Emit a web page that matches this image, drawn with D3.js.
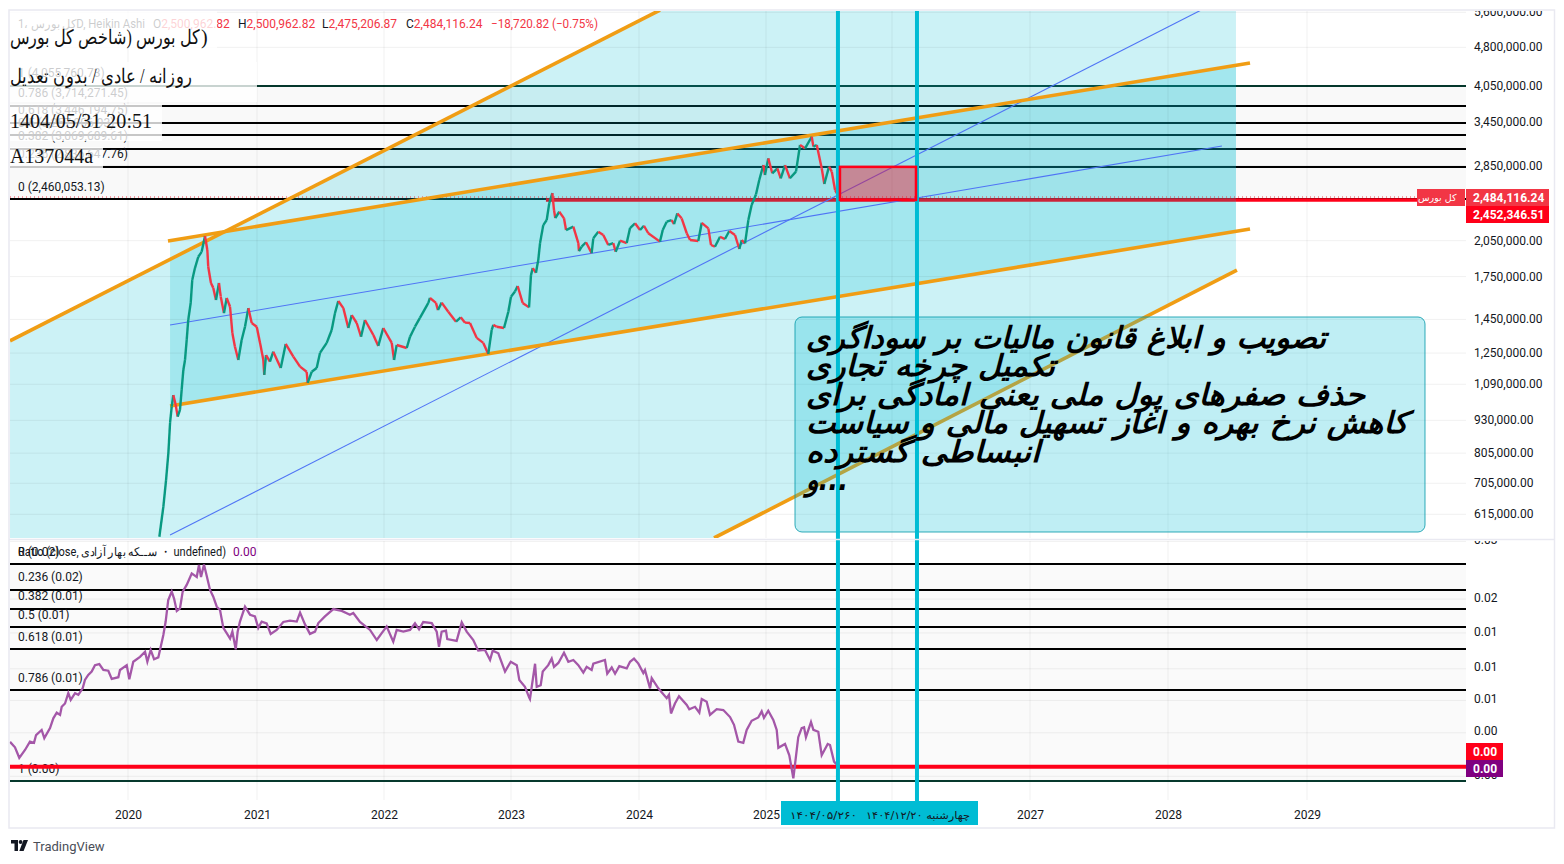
<!DOCTYPE html>
<html lang="en">
<head>
  <meta charset="UTF-8">
  <title>Tehran index chart</title>
  <script src="https://d3js.org/d3.v7.min.js"></script>
  <style>
    body, html {
      margin: 0;
      padding: 0;
      overflow: hidden;
      background: #fff;
    }
    svg {
      display: block;
      font-family: Roboto, sans-serif;
    }
    .axis text {
      font-family: Roboto, sans-serif;
      font-size: 12px;
      fill: #131722;
    }
    .grid {
      stroke: #000;
      stroke-opacity: 0.06;
    }
    .fib {
      shape-rendering: crispEdges;
    }
  </style>
</head>
<body>
  <svg id="chart" width="1564" height="864"></svg>
  <script>
    // Time axis: fractional years, the chart's own spacing differs per year
    const yearStops = [2019, 2020, 2021, 2022, 2023, 2024, 2025, 2026, 2027, 2028, 2029, 2030];
    const yearTicks = [2020, 2021, 2022, 2023, 2024, 2025, 2026, 2027, 2028, 2029];

    // Price pane ticks
    const priceTicks = [5600000, 4800000, 4050000, 3450000, 2850000, 2050000, 1750000, 1450000, 1250000, 1090000, 930000, 805000, 705000, 615000];

    // Index candles (fractional year, close in thousands)
    const priceDates = [2020.243, 2020.274, 2020.295, 2020.313, 2020.326, 2020.339, 2020.351, 2020.370, 2020.385, 2020.403, 2020.416, 2020.429, 2020.442, 2020.455, 2020.467, 2020.486, 2020.498, 2020.519, 2020.545, 2020.571, 2020.597, 2020.615, 2020.622, 2020.643, 2020.661, 2020.682, 2020.705, 2020.719, 2020.744, 2020.765, 2020.791, 2020.809, 2020.829, 2020.855, 2020.881, 2020.907, 2020.933, 2020.959, 2020.998,
      2021.024, 2021.050, 2021.057, 2021.071, 2021.102, 2021.128, 2021.187, 2021.226, 2021.286, 2021.339, 2021.391, 2021.399, 2021.431, 2021.470, 2021.496, 2021.549, 2021.588, 2021.614, 2021.640, 2021.680, 2021.719, 2021.746, 2021.785, 2021.819, 2021.850, 2021.916, 2021.955, 2021.994,
      2022.061, 2022.079, 2022.100, 2022.179, 2022.205, 2022.244, 2022.283, 2022.349, 2022.362, 2022.409, 2022.425, 2022.454, 2022.506, 2022.567, 2022.604, 2022.638, 2022.677, 2022.730, 2022.782, 2022.821, 2022.848, 2022.861, 2022.887, 2022.945, 2022.979,
      2023.000, 2023.031, 2023.052, 2023.091, 2023.141, 2023.156, 2023.170, 2023.195, 2023.213, 2023.227, 2023.252, 2023.279, 2023.299, 2023.323, 2023.336, 2023.346, 2023.377, 2023.414, 2023.430, 2023.487, 2023.526, 2023.531, 2023.552, 2023.586, 2023.630, 2023.643, 2023.682, 2023.721, 2023.760, 2023.799, 2023.818, 2023.852, 2023.904, 2023.930, 2023.969,
      2024.008, 2024.039, 2024.073, 2024.165, 2024.187, 2024.218, 2024.257, 2024.276, 2024.302, 2024.336, 2024.376, 2024.402, 2024.467, 2024.494, 2024.546, 2024.567, 2024.598, 2024.638, 2024.677, 2024.711, 2024.756, 2024.790, 2024.809, 2024.835, 2024.861, 2024.887, 2024.921, 2024.947, 2024.979, 2024.992,
      2025.018, 2025.050, 2025.090, 2025.117, 2025.151, 2025.190, 2025.238, 2025.270, 2025.310, 2025.363, 2025.376, 2025.403, 2025.442, 2025.463, 2025.500, 2025.522, 2025.548, 2025.574];
    const priceValues = [554, 632, 711, 801, 914, 982, 1033, 989, 940, 968, 1057, 1154, 1206, 1317, 1438, 1550, 1714, 1807, 1899, 1941, 2081, 1956, 1817, 1692, 1656, 1570, 1692, 1593, 1482, 1584, 1524, 1358, 1278, 1206, 1317, 1396, 1515, 1419, 1396,
      1300, 1206, 1129, 1232, 1197, 1251, 1164, 1294, 1224, 1171, 1145, 1090, 1145, 1164, 1244, 1300, 1376, 1482, 1563, 1515, 1388, 1469, 1419, 1336, 1438, 1346, 1283, 1388,
      1300, 1206, 1288, 1271, 1336, 1396, 1451, 1550, 1584, 1550, 1502, 1552, 1491, 1427, 1455, 1421, 1419, 1329, 1300, 1238, 1376, 1407, 1396, 1388, 1491,
      1593, 1630, 1670, 1550, 1520, 1752, 1807, 1770, 1872, 2017, 2183, 2232, 2405, 2514, 2332, 2252, 2315, 2249, 2136, 2168, 2017, 1947, 1985, 2024, 1930, 2060, 2120, 2090, 2000, 2017, 1941, 2038, 2017, 2155, 2200,
      2136, 2177, 2106, 2030, 2136, 2216, 2232, 2193, 2298, 2249, 2106, 2044, 2035, 2205, 2152, 2000, 1985, 2074, 2053, 2127, 2090, 1965, 2044, 2015, 2232, 2385, 2497, 2662, 2843, 2721,
      2928, 2742, 2803, 2682, 2843, 2682, 2762, 3105, 3060, 3220, 3083, 3105, 2803, 2615, 2824, 2762, 2547, 2484];

    // Fibonacci retracement on the price pane
    const priceFibLevels = ['1', '0.786', '0.618', '0.5', '0.382', '0.236', '0'];
    const priceFibValues = [4055760.73, 3714271.45, 3446194.75, 3257906.93, 3069689.61, 2836647.76, 2460053.13];

    // Trend lines: [start year, start price, end year, end price]
    const outerUpper = [2019.071, 1312000, 2024.165, 5622000];
    const outerLower = [2024.591, 551000, 2028.496, 1791000];
    const channelTop = [2020.310, 2036000, 2028.590, 4453000];
    const channelBottom = [2020.326, 985000, 2028.590, 2145000];
    const channelMid = [2020.326, 1406000, 2028.388, 3091000];
    const steepMid = [2020.326, 558000, 2028.266, 5672000];

    // Shaded zones, as year / price corners
    const fanDates = [2019.071, 2024.165, 2028.489, 2028.489, 2024.591, 2019.071];
    const fanPrices = [1312000, 5622000, 5622000, 1791000, 551000, 551000];
    const bandDates = [2020.326, 2028.489, 2028.489, 2020.326];
    const bandPrices = [2038000, 4408000, 2124000, 985000];

    const lastClose = 2484116.24;
    const redLevel = 2452346.51;
    const eventDates = [2025.571, 2026.181];

    // Ratio pane
    const ratioTicks = [0.0265, 0.016, 0.0119, 0.0087, 0.0066, 0.00497, 0.0034];
    const ratioFibLevels = ['0', '0.236', '0.382', '0.5', '0.618', '0.786', '1'];
    const ratioFibValues = [0.0215, 0.01719, 0.01452, 0.01236, 0.01021, 0.00714, 0.003225];
    const ratioRedLevel = 0.00365;

    // Ratio line, values in units of 0.0001
    const ratioDates = [2019.071, 2019.110, 2019.144, 2019.189, 2019.228, 2019.260, 2019.276, 2019.320, 2019.341, 2019.386, 2019.412, 2019.439, 2019.465, 2019.478, 2019.504, 2019.530, 2019.549, 2019.583, 2019.609, 2019.643, 2019.661, 2019.687, 2019.714, 2019.740, 2019.774, 2019.806, 2019.845, 2019.872, 2019.924, 2019.937, 2019.990,
      2020.010, 2020.041, 2020.093, 2020.132, 2020.150, 2020.176, 2020.202, 2020.235, 2020.248, 2020.274, 2020.292, 2020.312, 2020.339, 2020.357, 2020.378, 2020.403, 2020.424, 2020.455, 2020.494, 2020.533, 2020.550, 2020.566, 2020.589, 2020.610, 2020.636, 2020.661, 2020.688, 2020.713, 2020.739, 2020.765, 2020.791, 2020.809, 2020.835, 2020.850, 2020.868, 2020.907, 2020.946, 2020.984,
      2021.010, 2021.037, 2021.076, 2021.108, 2021.155, 2021.207, 2021.260, 2021.313, 2021.339, 2021.378, 2021.417, 2021.457, 2021.483, 2021.535, 2021.601, 2021.667, 2021.732, 2021.758, 2021.811, 2021.890, 2021.943, 2021.982,
      2022.021, 2022.073, 2022.100, 2022.152, 2022.205, 2022.244, 2022.276, 2022.309, 2022.376, 2022.415, 2022.433, 2022.454, 2022.488, 2022.498, 2022.572, 2022.612, 2022.651, 2022.703, 2022.742, 2022.795, 2022.835, 2022.856, 2022.900, 2022.953, 2022.998,
      2023.045, 2023.065, 2023.109, 2023.143, 2023.148, 2023.188, 2023.201, 2023.232, 2023.248, 2023.291, 2023.318, 2023.336, 2023.370, 2023.414, 2023.448, 2023.487, 2023.526, 2023.565, 2023.591, 2023.630, 2023.643, 2023.734, 2023.752, 2023.787, 2023.813, 2023.846, 2023.904, 2023.930, 2023.961, 2023.995,
      2024.034, 2024.047, 2024.087, 2024.100, 2024.152, 2024.218, 2024.236, 2024.252, 2024.283, 2024.315, 2024.376, 2024.396, 2024.441, 2024.475, 2024.494, 2024.533, 2024.559, 2024.612, 2024.664, 2024.717, 2024.748, 2024.782, 2024.821, 2024.848, 2024.887, 2024.939, 2024.966, 2024.984,
      2025.018, 2025.058, 2025.085, 2025.098, 2025.151, 2025.185, 2025.217, 2025.244, 2025.256, 2025.283, 2025.302, 2025.317, 2025.357, 2025.376, 2025.415, 2025.442, 2025.490, 2025.508, 2025.540, 2025.574];
    const ratioValues = [45.4, 43.3, 39.5, 42.3, 45.5, 45, 48.2, 50.4, 46.9, 51.2, 55.8, 58.6, 57.5, 61.7, 63.5, 69.5, 65.5, 69.5, 68.5, 72.5, 78, 81.5, 83.9, 88.8, 89.6, 85.1, 84.6, 78.7, 79.9, 85.1, 88.8,
      78.5, 91.5, 95.5, 99.8, 91.5, 101.4, 93.5, 95, 101.4, 115.6, 130, 157, 169, 159, 142.6, 146, 169, 179, 198, 192, 213, 192, 214, 194, 171.4, 161.6, 148, 144, 123, 117.5, 112, 119, 102, 119, 130, 148, 138, 136,
      123, 130, 128, 116.7, 120.8, 129.5, 131, 130, 140.6, 126.8, 116.7, 119, 128.3, 136, 145, 142.6, 138, 140, 129.5, 120.8, 110.6, 117.5,
      124.5, 109, 120.8, 119, 120.8, 128, 121.5, 129.5, 128.3, 119, 104.3, 119, 120, 111.5, 109.8, 129, 119, 110.6, 100.8, 101.4, 92.9, 100.8, 98.5, 83.9, 91.5,
      88.8, 78, 73.5, 66.7, 66, 89.9, 73.5, 74.5, 84, 88.8, 94, 87.5, 90.5, 99, 91.5, 92.9, 88.8, 83.2, 87.5, 85.1, 90, 92.9, 82.4, 87, 82.4, 88, 86.3, 91.5, 94, 90,
      82.9, 85.1, 72.5, 79.2, 72.5, 66.5, 68.5, 58.2, 63.5, 67.7, 62.7, 60.4, 61.7, 58.6, 66, 64.5, 57.5, 60.4, 60, 56.4, 52.7, 45.5, 45, 50.4, 54.6, 56.2, 59.3, 56,
      59.6, 55, 50.4, 43.1, 44.6, 40.4, 33, 42.3, 47.3, 51.2, 51.6, 47.3, 54, 50.4, 49.6, 40.4, 44.6, 44.2, 38.2, 36.7];

    // Texts
    const headerStats = [
      ['O', '2,500,962.82', 153], ['H', '2,500,962.82', 238], ['L', '2,475,206.87', 322], ['C', '2,484,116.24', 406]
    ];
    const noteLines = [
      'تصویب و ابلاغ قانون مالیات بر سوداگری',
      'تکمیل چرخه تجاری',
      'حذف صفرهای پول ملی یعنی امادگی برای',
      'کاهش نرخ بهره و اغاز تسهیل مالی و سیاست',
      'انبساطی گسترده',
      'و...'
    ];
    const noteWidths = [520, 249, 559, 602, 234, 42];
    const stampLines = ['کل بورس (شاخص کل بورس', 'روزانه / عادی / بدون تعدیل', '1404/05/31 20:51', 'A137044a'];

    const left = 10, right = 1466, paneTop = 11, paneBottom = 538;
    const pricePlotShift = -1.3;
    const cyan = '#00bcd4', orange = '#f09d14', blue = '#4f74f5', red = '#ff0019', tvRed = '#f23645', purple = '#800080';
    const arabicFont = '"DejaVu Sans", sans-serif';

    const svg = d3.select('#chart');

    const x = d3.scaleLinear()
      .domain(yearStops)
      .range([1, 128, 257, 384, 511, 639, 766, 892, 1030, 1168, 1307, 1446]);
    const priceY = d3.scaleLog().domain([615000, 5600000]).range([514.3, 12.3]);
    const ratioY = d3.scaleLog().domain([0.003225, 0.0215]).range([781, 564]);

    const defs = svg.append('defs');
    defs.append('clipPath').attr('id', 'price-clip')
      .append('rect').attr('x', left).attr('y', paneTop).attr('width', right - left).attr('height', paneBottom - paneTop);
    defs.append('clipPath').attr('id', 'price-axis-clip')
      .append('rect').attr('x', right).attr('y', paneTop).attr('width', 90).attr('height', paneBottom - paneTop + 1);
    defs.append('clipPath').attr('id', 'ratio-axis-clip')
      .append('rect').attr('x', right).attr('y', 541).attr('width', 90).attr('height', 260);

    // ---- price pane ----
    const pricePane = svg.append('g');

    pricePane.append('rect')
      .attr('x', left).attr('width', right - left)
      .attr('y', priceY(priceFibValues[0])).attr('height', priceY(priceFibValues[6]) - priceY(priceFibValues[0]))
      .attr('fill', '#f9f9f9');

    pricePane.selectAll('line.fib')
      .data(priceFibValues)
      .join('line')
      .attr('class', 'fib')
      .attr('x1', left).attr('x2', right)
      .attr('y1', priceY).attr('y2', priceY)
      .attr('stroke', (d, i) => (i === 0 ? '#06392d' : '#000'))
      .attr('stroke-width', 2);

    const corners = (dates, values) => dates.map((d, i) => [x(d), priceY(values[i]) + pricePlotShift].join(',')).join(' ');

    const shaded = pricePane.append('g').attr('clip-path', 'url(#price-clip)');
    shaded.append('polygon').attr('points', corners(fanDates, fanPrices)).attr('fill', cyan).attr('fill-opacity', 0.2);
    shaded.append('polygon').attr('points', corners(bandDates, bandPrices)).attr('fill', cyan).attr('fill-opacity', 0.2);

    // Grid
    pricePane.selectAll('line.hgrid')
      .data(priceTicks)
      .join('line')
      .attr('class', 'grid hgrid')
      .attr('x1', left).attr('x2', right)
      .attr('y1', priceY).attr('y2', priceY);
    pricePane.selectAll('line.vgrid')
      .data(yearTicks)
      .join('line')
      .attr('class', 'grid vgrid')
      .attr('x1', x).attr('x2', x)
      .attr('y1', paneTop).attr('y2', paneBottom);

    // Last price dots and red level
    pricePane.append('line')
      .attr('x1', left).attr('x2', right)
      .attr('y1', priceY(lastClose)).attr('y2', priceY(lastClose))
      .attr('stroke', tvRed).attr('stroke-dasharray', '1 3');
    pricePane.append('line')
      .attr('x1', x(2023.273)).attr('x2', x(2028.489))
      .attr('y1', priceY(redLevel)).attr('y2', priceY(redLevel))
      .attr('stroke', '#cb2339').attr('stroke-width', 3.5);
    pricePane.append('line')
      .attr('x1', x(2028.489)).attr('x2', 1417)
      .attr('y1', priceY(redLevel)).attr('y2', priceY(redLevel))
      .attr('stroke', red).attr('stroke-width', 3.5);

    // Trend lines and candles share the small plot shift
    const plot = pricePane.append('g')
      .attr('clip-path', 'url(#price-clip)')
      .append('g')
      .attr('transform', `translate(0,${pricePlotShift})`);

    plot.selectAll('line.thin')
      .data([channelMid, steepMid])
      .join('line')
      .attr('class', 'thin')
      .attr('x1', (d) => x(d[0])).attr('y1', (d) => priceY(d[1]))
      .attr('x2', (d) => x(d[2])).attr('y2', (d) => priceY(d[3]))
      .attr('stroke', blue).attr('stroke-width', 1.1);

    plot.selectAll('line.thick')
      .data([outerUpper, outerLower, channelTop, channelBottom])
      .join('line')
      .attr('class', 'thick')
      .attr('x1', (d) => x(d[0])).attr('y1', (d) => priceY(d[1]))
      .attr('x2', (d) => x(d[2])).attr('y2', (d) => priceY(d[3]))
      .attr('stroke', orange).attr('stroke-width', 3.6);

    plot.selectAll('line.candle')
      .data(priceValues.slice(1))
      .join('line')
      .attr('class', 'candle')
      .attr('x1', (d, i) => x(priceDates[i]))
      .attr('y1', (d, i) => priceY(priceValues[i] * 1000))
      .attr('x2', (d, i) => x(priceDates[i + 1]))
      .attr('y2', (d) => priceY(d * 1000))
      .attr('stroke', (d, i) => (d >= priceValues[i] ? '#089981' : tvRed))
      .attr('stroke-width', 2.4);

    // Fib labels
    pricePane.selectAll('text.fib-label')
      .data(priceFibValues)
      .join('text')
      .attr('class', 'fib-label')
      .attr('x', 18)
      .attr('y', (d) => priceY(d) - 8.5)
      .attr('font-size', 12)
      .attr('fill', '#131722')
      .text((d, i) => `${priceFibLevels[i]} (${d3.format(',.2f')(d)})`);

    // Legend line
    const legend = pricePane.append('g').attr('font-size', 12).attr('font-family', 'Roboto, sans-serif');
    legend.append('text').attr('x', 18).attr('y', 28).attr('fill', '#131722')
      .attr('textLength', 127).attr('lengthAdjust', 'spacingAndGlyphs')
      .text('کل بورس ،1D, Heikin Ashi');
    headerStats.forEach(([key, value, px]) => {
      const t = legend.append('text').attr('x', px).attr('y', 28).attr('fill', '#131722');
      t.append('tspan').text(key);
      t.append('tspan').attr('fill', tvRed).text(value);
    });
    legend.append('text').attr('x', 491).attr('y', 28).attr('fill', tvRed)
      .attr('textLength', 107).attr('lengthAdjust', 'spacingAndGlyphs')
      .text('−18,720.82 (−0.75%)');

    // Semi white stamps sitting over the chart
    const stampBoxes = [[8, 10, 209, 38], [10, 62, 247, 40], [10, 104, 152, 37], [10, 147, 93, 21]];
    pricePane.selectAll('rect.stamp')
      .data(stampBoxes)
      .join('rect')
      .attr('class', 'stamp')
      .attr('x', (d) => d[0]).attr('y', (d) => d[1])
      .attr('width', (d) => d[2]).attr('height', (d) => d[3])
      .attr('fill', '#fff').attr('fill-opacity', 0.78);

    const stampY = [44, 83, 128, 163];
    const stampLength = [190, 182, 142, 83];
    pricePane.selectAll('text.stamp-text')
      .data(stampLines)
      .join('text')
      .attr('class', 'stamp-text')
      .attr('x', 10)
      .attr('y', (d, i) => stampY[i])
      .attr('font-family', '"Liberation Serif", "DejaVu Serif", serif')
      .attr('font-size', 20)
      .attr('fill', '#111')
      .attr('textLength', (d, i) => stampLength[i])
      .attr('lengthAdjust', 'spacingAndGlyphs')
      .text((d) => d);
    // Closing bracket of the first stamp sits at the far right of the line
    pricePane.append('text')
      .attr('x', 201).attr('y', stampY[0])
      .attr('font-family', '"Liberation Serif", serif')
      .attr('font-size', 20).attr('fill', '#111')
      .text(')');

    // ---- ratio pane ----
    const ratioPane = svg.append('g');

    ratioPane.append('rect')
      .attr('x', left).attr('width', right - left)
      .attr('y', ratioY(ratioFibValues[0])).attr('height', ratioY(ratioFibValues[6]) - ratioY(ratioFibValues[0]))
      .attr('fill', '#fafafa');

    ratioPane.selectAll('line.hgrid')
      .data(ratioTicks)
      .join('line')
      .attr('class', 'grid hgrid')
      .attr('x1', left).attr('x2', right)
      .attr('y1', (d) => ratioY(d) + 1.3).attr('y2', (d) => ratioY(d) + 1.3);
    ratioPane.selectAll('line.vgrid')
      .data(yearTicks)
      .join('line')
      .attr('class', 'grid vgrid')
      .attr('x1', x).attr('x2', x)
      .attr('y1', 541).attr('y2', 800);

    ratioPane.selectAll('line.fib')
      .data(ratioFibValues)
      .join('line')
      .attr('class', 'fib')
      .attr('x1', left).attr('x2', right)
      .attr('y1', ratioY).attr('y2', ratioY)
      .attr('stroke', (d, i) => (i === 6 ? '#06392d' : '#000'))
      .attr('stroke-width', 2);

    ratioPane.selectAll('text.fib-label')
      .data(ratioFibValues)
      .join('text')
      .attr('class', 'fib-label')
      .attr('x', 18)
      .attr('y', (d) => ratioY(d) - 8.5)
      .attr('font-size', 12)
      .attr('fill', '#131722')
      .text((d, i) => `${ratioFibLevels[i]} (${d3.format('.2f')(d)})`);

    ratioPane.append('line')
      .attr('x1', left).attr('x2', right)
      .attr('y1', ratioY(ratioRedLevel)).attr('y2', ratioY(ratioRedLevel))
      .attr('stroke', red).attr('stroke-width', 4);

    const ratioLine = d3.line()
      .x((d, i) => x(ratioDates[i]))
      .y((d) => ratioY(d / 10000));
    ratioPane.append('path')
      .attr('d', ratioLine(ratioValues))
      .attr('fill', 'none')
      .attr('stroke', '#a457a8')
      .attr('stroke-width', 2.3);

    ratioPane.append('text')
      .attr('x', 18).attr('y', 556)
      .attr('font-size', 12).attr('fill', '#131722')
      .attr('textLength', 208).attr('lengthAdjust', 'spacingAndGlyphs')
      .text('Ratio (close, ســکه بهار آزادی ・ undefined)');
    ratioPane.append('text')
      .attr('x', 233).attr('y', 556)
      .attr('font-size', 12).attr('fill', purple)
      .text('0.00');

    // ---- annotation box ----
    svg.append('rect')
      .attr('x', 795).attr('y', 317).attr('width', 630).attr('height', 215)
      .attr('rx', 7)
      .attr('fill', cyan).attr('fill-opacity', 0.25)
      .attr('stroke', '#0097a7').attr('stroke-opacity', 0.8);

    // ---- event lines ----
    svg.selectAll('line.event')
      .data(eventDates)
      .join('line')
      .attr('class', 'event')
      .attr('x1', x).attr('x2', x)
      .attr('y1', paneTop).attr('y2', 801)
      .attr('stroke', cyan).attr('stroke-width', 4);

    // Red rectangle between the two event dates, over the event lines
    svg.append('rect')
      .attr('x', x(eventDates[0]) + 2).attr('width', x(eventDates[1]) - x(eventDates[0]) - 3)
      .attr('y', priceY(priceFibValues[5])).attr('height', priceY(redLevel) - priceY(priceFibValues[5]))
      .attr('fill', red).attr('fill-opacity', 0.4)
      .attr('stroke', red).attr('stroke-width', 2.5);

    svg.selectAll('text.note')
      .data(noteLines)
      .join('text')
      .attr('class', 'note')
      .attr('x', 806)
      .attr('y', (d, i) => 348 + i * 28.4)
      .attr('font-family', arabicFont)
      .attr('font-size', 30)
      .attr('font-weight', 'bold')
      .attr('font-style', 'italic')
      .attr('fill', '#000')
      .attr('textLength', (d, i) => noteWidths[i])
      .attr('lengthAdjust', 'spacingAndGlyphs')
      .text((d) => d);

    // ---- axes ----
    const priceAxis = d3.axisRight(priceY)
      .tickValues(priceTicks)
      .tickFormat(d3.format(',.2f'))
      .tickSize(0)
      .tickPadding(8);
    svg.append('g')
      .attr('clip-path', 'url(#price-axis-clip)')
      .append('g')
      .attr('class', 'axis')
      .attr('transform', `translate(${right},-0.3)`)
      .call(priceAxis)
      .call((g) => g.select('.domain').remove());

    const ratioAxis = d3.axisRight(ratioY)
      .tickValues(ratioTicks)
      .tickFormat(d3.format('.2f'))
      .tickSize(0)
      .tickPadding(8);
    svg.append('g')
      .attr('clip-path', 'url(#ratio-axis-clip)')
      .append('g')
      .attr('class', 'axis')
      .attr('transform', `translate(${right},-0.4)`)
      .call(ratioAxis)
      .call((g) => g.select('.domain').remove());

    const timeAxis = d3.axisBottom(x)
      .tickValues(yearTicks)
      .tickFormat(d3.format('d'))
      .tickSize(0)
      .tickPadding(0);
    svg.append('g')
      .attr('class', 'axis')
      .attr('transform', 'translate(0,810)')
      .call(timeAxis)
      .call((g) => g.select('.domain').remove());

    // Date labels of the event lines
    svg.append('rect').attr('x', 781).attr('y', 801).attr('width', 197).attr('height', 24).attr('fill', cyan);
    svg.append('text').attr('x', 790).attr('y', 819)
      .attr('font-family', arabicFont).attr('font-size', 10.5).attr('fill', '#131722')
      .attr('textLength', 67).attr('lengthAdjust', 'spacingAndGlyphs')
      .text('۱۴۰۴/۰۵/۲۶۰');
    svg.append('text').attr('x', 866).attr('y', 819)
      .attr('font-family', arabicFont).attr('font-size', 10.5).attr('fill', '#131722')
      .attr('textLength', 104).attr('lengthAdjust', 'spacingAndGlyphs')
      .text('۱۴۰۴/۱۲/۲۰ چهارشنبه');

    // ---- price tags ----
    const tagRows = [
      { value: lastClose, top: 189, h: 17, fill: tvRed },
      { value: redLevel, top: 206, h: 17, fill: red }
    ];
    tagRows.forEach((tag) => {
      svg.append('rect').attr('x', right).attr('y', tag.top).attr('width', 83).attr('height', tag.h).attr('fill', tag.fill);
      svg.append('text').attr('x', 1473).attr('y', tag.top + 13)
        .attr('font-size', 12).attr('font-weight', 'bold').attr('fill', '#fff')
        .text(d3.format(',.2f')(tag.value));
    });
    svg.append('rect').attr('x', 1417).attr('y', 189).attr('width', 48).attr('height', 17).attr('fill', tvRed);
    svg.append('text').attr('x', 1418).attr('y', 201)
      .attr('font-family', arabicFont).attr('font-size', 9.5).attr('fill', '#fff')
      .text('کل بورس');

    const ratioTags = [
      { top: 743, fill: red },
      { top: 760, fill: purple }
    ];
    ratioTags.forEach((tag) => {
      svg.append('rect').attr('x', right).attr('y', tag.top).attr('width', 37).attr('height', 17).attr('fill', tag.fill);
      svg.append('text').attr('x', 1473).attr('y', tag.top + 13)
        .attr('font-size', 12).attr('font-weight', 'bold').attr('fill', '#fff')
        .text('0.00');
    });

    // ---- frame ----
    svg.append('rect')
      .attr('x', 9).attr('y', 10).attr('width', 1545.5).attr('height', 818)
      .attr('fill', 'none').attr('stroke', '#e9e9f1').attr('stroke-width', 1.5);
    svg.append('line')
      .attr('x1', 9).attr('x2', 1555).attr('y1', 539.5).attr('y2', 539.5)
      .attr('stroke', '#e9e9f1').attr('stroke-width', 1.5);

    // ---- footer ----
    const logo = svg.append('g').attr('transform', 'translate(11,840)').attr('fill', '#131722');
    logo.append('path').attr('d', 'M0 0H7V11H3.5V3.5H0Z');
    logo.append('circle').attr('cx', 9.6).attr('cy', 2).attr('r', 1.9);
    logo.append('path').attr('d', 'M12.5 0H17L12.6 11H8.3Z');
    svg.append('text').attr('x', 33).attr('y', 851)
      .attr('font-size', 13).attr('fill', '#4a4e57')
      .text('TradingView');
  </script>
</body>
</html>
